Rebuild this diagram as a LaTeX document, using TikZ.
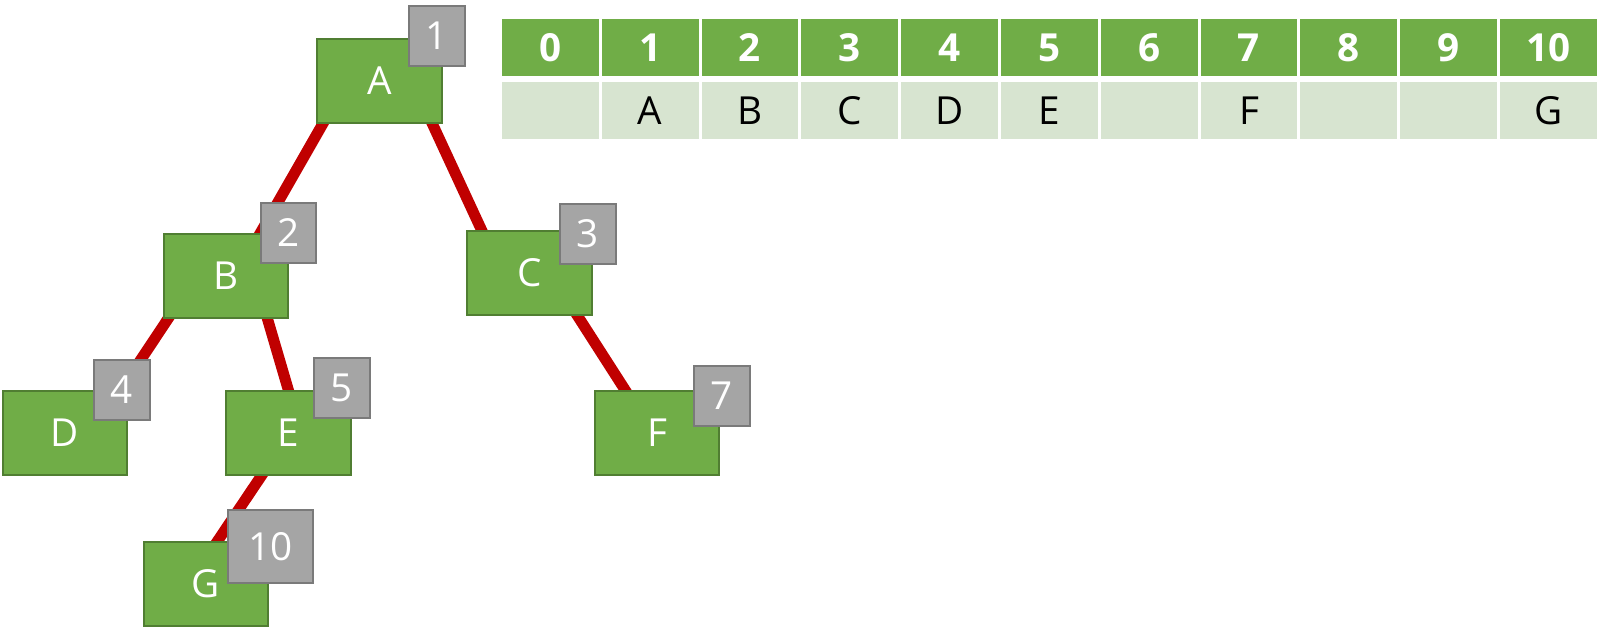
\documentclass[tikz,border=0pt]{standalone}
\usepackage{fontspec}
\setmainfont{Open Sans}
\usetikzlibrary{calc,backgrounds}
\definecolor{boxgreen}{HTML}{70AD47}
\definecolor{boxedge}{HTML}{507E32}
\definecolor{idxgray}{HTML}{A5A5A5}
\definecolor{idxedge}{HTML}{7A7A7A}
\definecolor{linkred}{HTML}{C00000}
\definecolor{cellpale}{HTML}{D7E4D0}
\begin{document}
\begin{tikzpicture}[x=0.02cm, y=-0.02cm, font=\fontsize{22}{26}\selectfont, every node/.style={outer sep=0pt, inner sep=0pt},
    treebox/.style={draw=boxedge, fill=boxgreen, line width=0.04cm, minimum width=2.5cm, minimum height=1.68cm, text=white},
    idxbox/.style={draw=idxedge, fill=idxgray, line width=0.04cm, minimum width=1.12cm, minimum height=1.2cm, text=white},
    headcell/.style={draw=white, fill=boxgreen, line width=0.06cm, minimum width=1.996cm, minimum height=1.2cm, text=white, font=\fontsize{22}{26}\selectfont\bfseries},
    valcell/.style={draw=white, fill=cellpale, line width=0.06cm, minimum width=1.996cm, minimum height=1.2cm, text=black},
    treelink/.style={draw=linkred, line width=0.22cm, shorten <=-0.3cm, shorten >=-0.3cm}]
    \useasboundingbox (0, 0) rectangle (1602, 630);
    % tree
    \node[treebox] (A) at (379.5, 81) {A};
    \node[idxbox] (n1) at (437, 35.5) {1};
    \node[treebox] (B) at (226, 276) {B};
    \node[idxbox] (n2) at (288.5, 232.5) {2};
    \node[treebox] (C) at (529.5, 273) {C};
    \node[idxbox] (n3) at (587.5, 233.5) {3};
    \node[treebox] (D) at (65, 433) {D};
    \node[idxbox] (n4) at (122, 389.5) {4};
    \node[treebox] (E) at (288.5, 432.5) {E};
    \node[idxbox] (n5) at (342, 388) {5};
    \node[treebox] (F) at (657, 433) {F};
    \node[idxbox] (n7) at (721.5, 395.5) {7};
    \node[treebox] (G) at (206, 583.5) {G};
    \node[idxbox, minimum width=1.7cm, minimum height=1.46cm] (n10) at (270.5, 546.5) {10};
    \begin{pgfonlayer}{background}
        \draw[treelink] ($(A.south west)!0.05!(A.south east)$) -- ($(B.north west)!0.77!(B.north east)$);
        \draw[treelink] ($(A.south west)!0.92!(A.south east)$) -- ($(C.north west)!0.12!(C.north east)$);
        \draw[treelink] ($(B.south west)!0.04!(B.south east)$) -- ($(D.north west)!0.94!(D.north east)$);
        \draw[treelink] ($(B.south west)!0.83!(B.south east)$) -- ($(E.north west)!0.5!(E.north east)$);
        \draw[treelink] ($(C.south west)!0.88!(C.south east)$) -- ($(F.north west)!0.25!(F.north east)$);
        \draw[treelink] ($(E.south west)!0.29!(E.south east)$) -- ($(G.north west)!0.59!(G.north east)$);
    \end{pgfonlayer}
    % array
    \node[headcell] (h0) at (550.4, 47.5) {0};
    \node[headcell] (h1) at (650.2, 47.5) {1};
    \node[headcell] (h2) at (750, 47.5) {2};
    \node[headcell] (h3) at (849.8, 47.5) {3};
    \node[headcell] (h4) at (949.6, 47.5) {4};
    \node[headcell] (h5) at (1049.4, 47.5) {5};
    \node[headcell] (h6) at (1149.2, 47.5) {6};
    \node[headcell] (h7) at (1249, 47.5) {7};
    \node[headcell] (h8) at (1348.8, 47.5) {8};
    \node[headcell] (h9) at (1448.6, 47.5) {9};
    \node[headcell] (h10) at (1548.4, 47.5) {10};
    \node[valcell] (v0) at (550.4, 110.5) {};
    \node[valcell] (v1) at (650.2, 110.5) {A};
    \node[valcell] (v2) at (750, 110.5) {B};
    \node[valcell] (v3) at (849.8, 110.5) {C};
    \node[valcell] (v4) at (949.6, 110.5) {D};
    \node[valcell] (v5) at (1049.4, 110.5) {E};
    \node[valcell] (v6) at (1149.2, 110.5) {};
    \node[valcell] (v7) at (1249, 110.5) {F};
    \node[valcell] (v8) at (1348.8, 110.5) {};
    \node[valcell] (v9) at (1448.6, 110.5) {};
    \node[valcell] (v10) at (1548.4, 110.5) {G};
\end{tikzpicture}
\end{document}
